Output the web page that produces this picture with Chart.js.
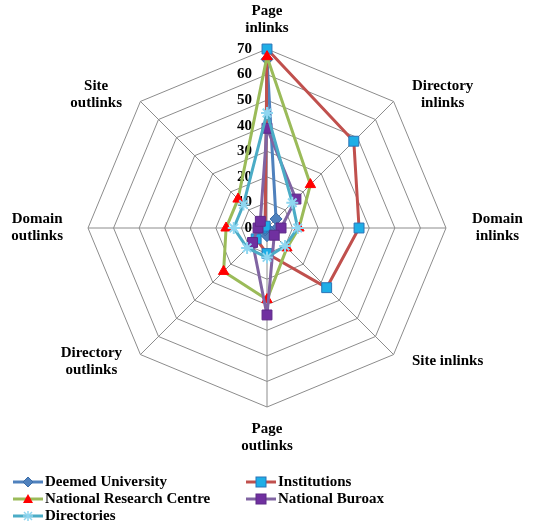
<!DOCTYPE html>
<html><head><meta charset="utf-8">
<script src="https://cdn.jsdelivr.net/npm/chart.js@4/dist/chart.umd.min.js"></script>
<style>
html,body{margin:0;padding:0;background:#fff;}
#wrap{position:relative;width:537px;height:525px;overflow:hidden;}
#legend{position:absolute;left:0;top:0;width:537px;height:525px;pointer-events:none;font:bold 15px "Liberation Serif","Times New Roman",serif;color:#000;}
.item{position:absolute;display:flex;align-items:center;height:17px;white-space:nowrap;}
.item svg{margin-right:2px;display:block;}
</style></head><body>
<div id="wrap"><canvas id="c" width="537" height="525"></canvas><div id="legend"></div></div>
<script>
// ---- data ----
const categories = [
  ['Page','inlinks'], ['Directory','inlinks'], ['Domain','inlinks'], ['Site inlinks'],
  ['Page','outlinks'], ['Directory','outlinks'], ['Domain','outlinks'], ['Site','outlinks']
];
const tickValues = [0, 10, 20, 30, 40, 50, 60, 70];
const seriesNames = ['Deemed University', 'Institutions', 'National Research Centre', 'National Buroax', 'Directories'];
const deemedUniversity       = [66, 5, 4, 1, 3, 1, 1, 1];
const institutions           = [70, 48, 36, 33, 10, 6, 2, 1];
const nationalResearchCentre = [67, 24, 12.5, 11, 28, 24, 16, 16];
const nationalBuroax         = [39, 16, 5.5, 4, 34, 8, 3.5, 3.7];
const directories            = [45, 14, 12, 10, 11.5, 11, 13, 13];

// ---- styles ----
const styles = [
  {line:'#4F81BD', fill:'#4F81BD', edge:'#3A6CA8', style:'rectRot', r:6},
  {line:'#C0504D', fill:'#1FAEE6', edge:'#2B74B8', style:'rect', r:7},
  {line:'#9BBB59', fill:'#FF0000', edge:'#FF0000', style:'triangle', r:6},
  {line:'#8064A2', fill:'#7030A0', edge:'#5E2A88', style:'rect', r:7},
  {line:'#4BACC6', fill:'#8FD6F0', edge:'#8FD6F0', style:'star', r:6}
];
const seriesData = [deemedUniversity, institutions, nationalResearchCentre, nationalBuroax, directories];

const FONT = '"Liberation Serif","Times New Roman",serif';

const labelPlugin = {
  id: 'excelLabels',
  beforeDatasetsDraw(chart) {
    const s = chart.scales.r, ctx = chart.ctx;
    ctx.save();
    ctx.font = 'bold 15px ' + FONT;
    ctx.fillStyle = '#000';
    ctx.textAlign = 'right';
    ctx.textBaseline = 'middle';
    tickValues.forEach(v => {
      const d = s.getDistanceFromCenterForValue(v);
      ctx.fillText(String(v), s.xCenter - 15, s.yCenter - d);
    });
    ctx.restore();
  },
  afterDraw(chart) {
    const s = chart.scales.r, ctx = chart.ctx;
    const pads = [12, 26, 26, 26, 14, 26, 25, 26];
    const lh = 17;
    ctx.save();
    ctx.font = 'bold 15px ' + FONT;
    ctx.fillStyle = '#000';
    ctx.textAlign = 'center';
    ctx.textBaseline = 'middle';
    categories.forEach((lines, i) => {
      const ang = i * 360 / categories.length;
      const p = s.getPointPosition(i, s.drawingArea + pads[i]);
      const w = Math.max(...lines.map(t => ctx.measureText(t).width));
      const h = lines.length * lh;
      let left, top;
      if (ang === 0) { left = p.x - w / 2; top = p.y - h; }
      else if (ang === 180) { left = p.x - w / 2; top = p.y; }
      else {
        const cy = (ang === 90 || ang === 270) ? p.y : s.yCenter + (p.y - s.yCenter) * 0.92;
        top = cy - h / 2;
        left = ang < 180 ? p.x : p.x - w;
      }
      lines.forEach((t, k) => ctx.fillText(t, left + w / 2, top + lh * k + lh / 2));
    });
    ctx.restore();
  }
};

const datasets = seriesNames.map((name, i) => ({
  label: name,
  data: seriesData[i],
  borderColor: styles[i].line,
  borderWidth: 3,
  fill: false,
  tension: 0,
  pointStyle: styles[i].style,
  pointRadius: styles[i].r,
  pointBackgroundColor: styles[i].fill,
  pointBorderColor: styles[i].edge,
  pointBorderWidth: styles[i].style === 'star' ? 2 : 1,
  order: seriesNames.length - 1 - i
}));

new Chart(document.getElementById('c'), {
  type: 'radar',
  data: { labels: categories.map(l => l.join(' ')), datasets },
  options: {
    responsive: false,
    animation: false,
    layout: { padding: { left: 88, right: 91, top: 49, bottom: 118 } },
    plugins: { legend: { display: false }, tooltip: { enabled: false } },
    elements: { line: { borderJoinStyle: 'round' } },
    scales: {
      r: {
        min: 0, max: 70,
        afterBuildTicks: sc => { sc.ticks = tickValues.map(v => ({ value: v })); },
        ticks: { display: false, stepSize: 10 },
        grid: { color: '#8C8C8C', lineWidth: 1, circular: false },
        angleLines: { color: '#8C8C8C', lineWidth: 1 },
        pointLabels: { display: false }
      }
    }
  },
  plugins: [labelPlugin]
});

// ---- legend ----
const legendPos = [[13, 473], [246, 473], [13, 490], [246, 490], [13, 507]];
const legend = document.getElementById('legend');
function markerSvg(st) {
  const cx = 15, cy = 8;
  let m = '';
  if (st.style === 'rectRot') m = `<polygon points="${cx},${cy-5} ${cx+5},${cy} ${cx},${cy+5} ${cx-5},${cy}" fill="${st.fill}" stroke="${st.edge}"/>`;
  else if (st.style === 'rect') m = `<rect x="${cx-5}" y="${cy-5}" width="10" height="10" fill="${st.fill}" stroke="${st.edge}"/>`;
  else if (st.style === 'triangle') m = `<polygon points="${cx},${cy-5} ${cx+5},${cy+4} ${cx-5},${cy+4}" fill="${st.fill}"/>`;
  else m = `<g stroke="${st.fill}" stroke-width="1.5"><line x1="${cx-5}" y1="${cy}" x2="${cx+5}" y2="${cy}"/><line x1="${cx}" y1="${cy-5}" x2="${cx}" y2="${cy+5}"/><line x1="${cx-4}" y1="${cy-4}" x2="${cx+4}" y2="${cy+4}"/><line x1="${cx-4}" y1="${cy+4}" x2="${cx+4}" y2="${cy-4}"/></g>`;
  return `<svg width="30" height="16" viewBox="0 0 30 16"><line x1="0" y1="8" x2="30" y2="8" stroke="${st.line}" stroke-width="3"/>${m}</svg>`;
}
seriesNames.forEach((n, i) => {
  const d = document.createElement('div');
  d.className = 'item';
  d.style.left = legendPos[i][0] + 'px';
  d.style.top = legendPos[i][1] + 'px';
  d.innerHTML = markerSvg(styles[i]) + '<span>' + n + '</span>';
  legend.appendChild(d);
});
</script>
</body></html>
